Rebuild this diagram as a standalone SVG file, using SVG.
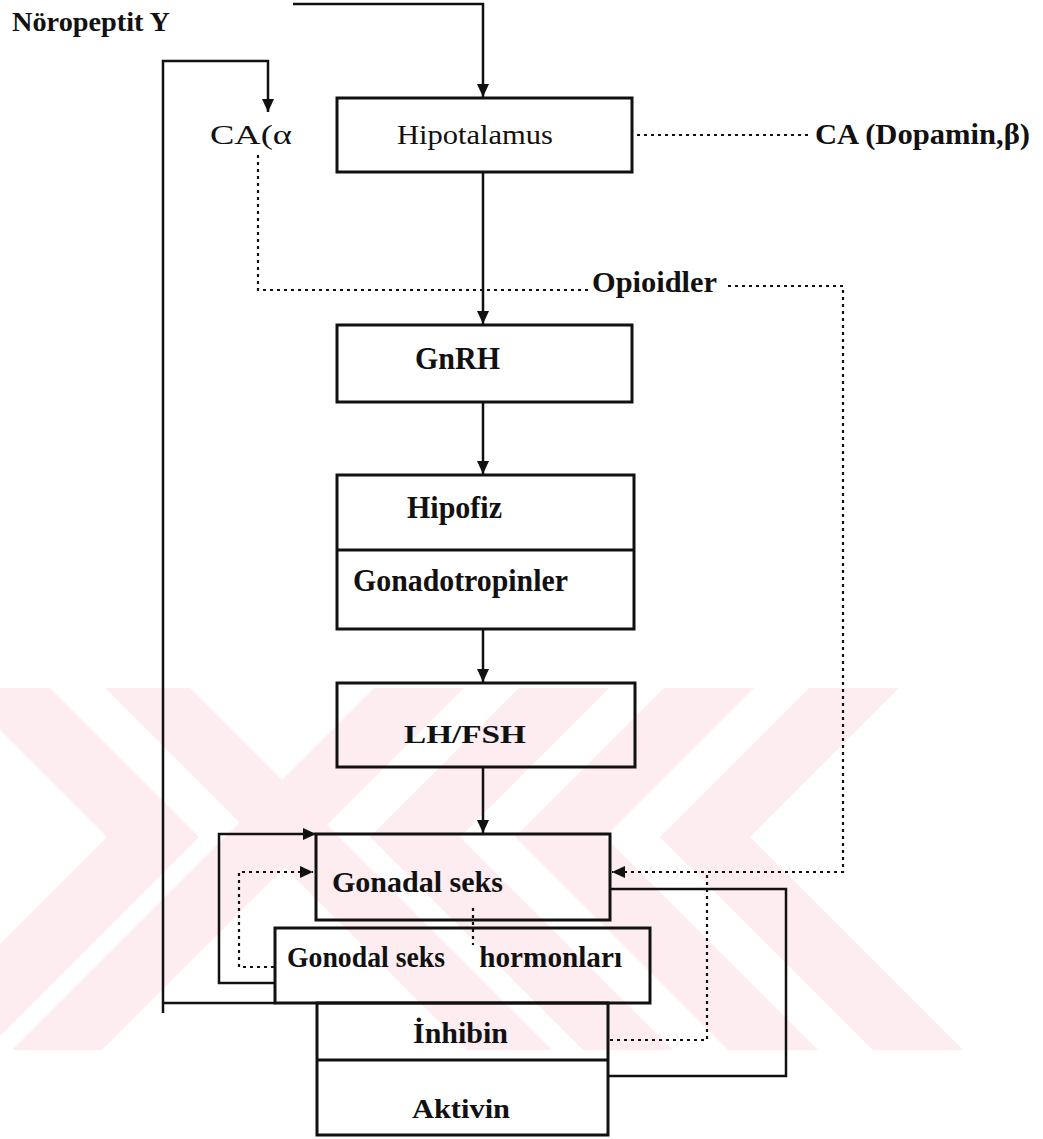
<svg xmlns="http://www.w3.org/2000/svg" width="1043" height="1139" viewBox="0 0 1043 1139">
<defs>
<marker id="ah" markerUnits="userSpaceOnUse" markerWidth="14" markerHeight="12" refX="13" refY="6" orient="auto">
<path d="M0,0 L13,6 L0,12 z" fill="#111"/>
</marker>
<style>
.bx{fill:none;stroke:#111;stroke-width:3}
.ln{fill:none;stroke:#111;stroke-width:2.5}
.dt{fill:none;stroke:#111;stroke-width:2.2;stroke-dasharray:3 4}
.wm{fill:#fdedf0;stroke:none}
.r{font-family:"Liberation Serif","Times New Roman",serif;fill:#111}
.b{font-family:"Liberation Serif","Times New Roman",serif;font-weight:bold;fill:#111}
</style>
</defs>
<rect width="1043" height="1139" fill="#fff"/>
<g id="watermark">
<polygon class="wm" points="-42,688 50,688 199,837 -14,1050 -106,1050 107,837"/>
<polygon class="wm" points="105,688 190,688 552,1050 467,1050"/>
<polygon class="wm" points="374,688 464,688 102,1050 12,1050"/>
<polygon class="wm" points="519,688 609,688 460,837 673,1050 583,1050 370,837"/>
<polygon class="wm" points="664,688 754,688 605,837 818,1050 728,1050 515,837"/>
<polygon class="wm" points="809,688 899,688 750,837 963,1050 873,1050 660,837"/>
</g>
<g id="connectors">
<path class="ln" d="M293,4 H483 V97" marker-end="url(#ah)"/>
<path class="ln" d="M483,172 V324" marker-end="url(#ah)"/>
<path class="ln" d="M483,402 V474" marker-end="url(#ah)"/>
<path class="ln" d="M483,629 V682" marker-end="url(#ah)"/>
<path class="ln" d="M483,767 V833" marker-end="url(#ah)"/>
<path class="ln" d="M163,1013 V61 H268 V112" marker-end="url(#ah)"/>
<path class="ln" d="M276,1003 H163"/>
<path class="dt" d="M258,155 V290 H590"/>
<path class="dt" d="M637,135 H812"/>
<path class="dt" d="M728,286 H843 V872 H612" marker-end="url(#ah)"/>
<path class="ln" d="M276,983 H219 V834 H316" marker-end="url(#ah)"/>
<path class="dt" d="M274,967 H239 V872 H313" marker-end="url(#ah)"/>
<path class="dt" d="M473,908 V945"/>
<path class="dt" d="M610,1040 H707 V874"/>
<path class="ln" d="M608,1076 H786 V889 H610"/>
</g>
<g id="n-noropeptit"><text class="b" x="12" y="31" font-size="27" textLength="158" lengthAdjust="spacingAndGlyphs">Nöropeptit Y</text></g>
<g id="n-ca-alpha"><text class="r" x="210" y="144" font-size="27" textLength="82" lengthAdjust="spacingAndGlyphs">CA(α</text></g>
<g id="n-hipotalamus"><rect class="bx" x="337" y="98" width="295" height="74"/><text class="r" x="397" y="144" font-size="27" textLength="156" lengthAdjust="spacingAndGlyphs">Hipotalamus</text></g>
<g id="n-ca-dopamin"><text class="b" x="815" y="144" font-size="29" textLength="215" lengthAdjust="spacingAndGlyphs">CA (Dopamin,β)</text></g>
<g id="n-opioidler"><text class="b" x="592" y="292" font-size="30" textLength="125" lengthAdjust="spacingAndGlyphs">Opioidler</text></g>
<g id="n-gnrh"><rect class="bx" x="337" y="325" width="295" height="77"/><text class="b" x="415" y="369" font-size="31" textLength="85" lengthAdjust="spacingAndGlyphs">GnRH</text></g>
<g id="n-hipofiz"><rect class="bx" x="337" y="475" width="297" height="154"/><line class="bx" x1="337" y1="550" x2="634" y2="550"/><text class="b" x="407" y="518" font-size="31" textLength="95" lengthAdjust="spacingAndGlyphs">Hipofiz</text><text class="b" x="353" y="591" font-size="31" textLength="215" lengthAdjust="spacingAndGlyphs">Gonadotropinler</text></g>
<g id="n-lhfsh"><rect class="bx" x="337" y="683" width="298" height="84"/><text class="b" x="404" y="743" font-size="26" textLength="122" lengthAdjust="spacingAndGlyphs">LH/FSH</text></g>
<g id="n-gonadal"><rect class="bx" x="316" y="834" width="294" height="86"/><text class="b" x="332" y="892" font-size="30" textLength="171" lengthAdjust="spacingAndGlyphs">Gonadal seks</text></g>
<g id="n-hormonlari"><rect class="bx" x="275" y="928" width="375" height="75"/><text class="b" y="967" font-size="30"><tspan x="287" textLength="158" lengthAdjust="spacingAndGlyphs">Gonodal seks</tspan><tspan x="472" textLength="150" lengthAdjust="spacingAndGlyphs"> hormonları</tspan></text></g>
<g id="n-inhibin-aktivin"><rect class="bx" x="317" y="1003" width="291" height="132"/><line class="bx" x1="317" y1="1060" x2="608" y2="1060"/><text class="b" x="413" y="1043" font-size="30" textLength="95" lengthAdjust="spacingAndGlyphs">İnhibin</text><text class="b" x="412" y="1118" font-size="28" textLength="98" lengthAdjust="spacingAndGlyphs">Aktivin</text></g>
</svg>
